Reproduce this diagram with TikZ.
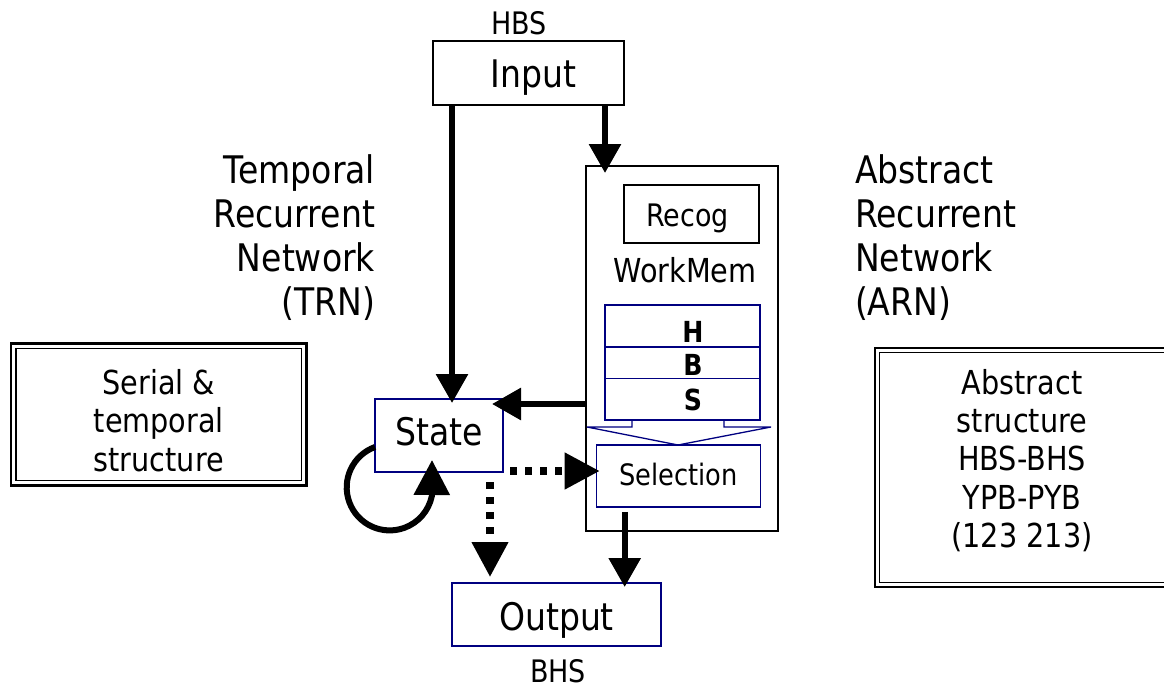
\documentclass[tikz,border=0pt]{standalone}
\usepackage{fontspec}
\setmainfont{DejaVu Sans}[FakeStretch=0.87]
\usetikzlibrary{arrows.meta,calc}
\definecolor{navyc}{RGB}{0,0,128}
\begin{document}
\begin{tikzpicture}[x=1pt,y=-1pt,
  every node/.style={inner sep=0pt, outer sep=0pt},
  bigfont/.style={font=\fontsize{38}{44}\selectfont},
  midfont/.style={font=\fontsize{33}{38.3}\selectfont},
  smallfont/.style={font=\fontsize{31}{35}\selectfont},
  blackbox/.style={draw=black, line width=2pt},
  navybox/.style={draw=navyc, line width=1.5pt},
  rowbox/.style={draw=navyc, line width=1.5pt, minimum width=155pt, font=\fontsize{29}{33}\selectfont\bfseries, text depth=0pt},
  solidarrow/.style={line width=6pt, -{Triangle[length=29pt,width=31pt]}},
  looparrow/.style={line width=6pt, -{Triangle[length=35pt,width=35pt]}},
  dotarrow/.style={line width=7.5pt, dash pattern=on 7pt off 8pt, -{Triangle[length=35pt,width=35pt]}}
]
\useasboundingbox (0,0) rectangle (1164,690);
\clip (0,0) rectangle (1164,690);

% top input
\node[blackbox, bigfont, minimum width=191pt, minimum height=64pt, text height=28.6pt, text depth=0pt] (input) at (528.5,73) {\hspace*{10pt}Input};
\node[smallfont, anchor=base] (hbsin) at (519,34.3) {HBS};

% side labels
\node[bigfont, align=right, anchor=east] (trn) at (375,238) {Temporal\\Recurrent\\Network\\(TRN)};
\node[bigfont, align=left, anchor=west] (arn) at (855,238) {Abstract\\Recurrent\\Network\\(ARN)};

% working memory block
\node[draw=black, line width=1.5pt, minimum width=192pt, minimum height=365pt] (wm) at (682,348.5) {};
\node[blackbox, smallfont, minimum width=135pt, minimum height=58pt, text height=25.4pt, text depth=0pt] (recog) at (691.5,214) {\hspace*{-8pt}Recog};
\node[font=\fontsize{33}{38}\selectfont, anchor=base] (wmlabel) at (685,282.7) {WorkMem};

\node[rowbox, minimum height=42pt, text height=32pt] (rowH) at (682.5,326) {\hspace*{21pt}H};
\node[rowbox, minimum height=31.5pt, text height=25pt] (rowB) at (682.5,362.5) {\hspace*{21pt}B};
\node[rowbox, minimum height=41.5pt, text height=22pt] (rowS) at (682.5,399) {\hspace*{21pt}S};

\draw[navyc, line width=1.3pt, line join=miter] (632,420) -- (632,427) -- (587,427) -- (678,445) -- (771,427) -- (724,427) -- (724,420);

\node[navybox, font=\fontsize{29.5}{34}\selectfont, minimum width=164pt, minimum height=62pt, text height=18.4pt, text depth=0pt] (selection) at (678.7,475.8) {Selection};

% state and output
\node[navybox, bigfont, minimum width=128pt, minimum height=73pt, text height=19pt, text depth=0pt] (state) at (439,435.5) {State};
\node[navybox, bigfont, minimum width=209pt, minimum height=63pt, text height=31pt, text depth=0pt] (output) at (556.5,614.5) {Output};
\node[smallfont, anchor=base] (bhsout) at (558,682.5) {BHS};

% double framed boxes
\node[draw=black, line width=2.6pt, minimum width=295.7pt, minimum height=142.4pt,
  label={[midfont, align=center, yshift=-6pt]center:Serial \&\\temporal\\structure}] (serial) at (158.85,414.5) {};
\draw[line width=1.3pt] ([shift={(5,5)}]serial.north west) rectangle ([shift={(-5,-5)}]serial.south east);

\node[draw=black, line width=2.6pt, minimum width=294pt, minimum height=239pt,
  label={[midfont, align=center, yshift=7pt]center:Abstract\\structure\\HBS-BHS\\YPB-PYB\\(123 213)}] (abs) at (1022,467.5) {};
\draw[line width=1.3pt] ([shift={(4.5,4.5)}]abs.north west) rectangle ([shift={(-4.5,-4.5)}]abs.south east);

% connectors
\coordinate (inL) at ([xshift=19pt]input.south west);
\draw[solidarrow, shorten >=-4pt] (inL) -- (inL |- state.north);
\coordinate (inR) at ([xshift=-19pt]input.south east);
\draw[solidarrow, shorten >=-7pt] (inR) -- (inR |- wm.north);
\coordinate (stR) at ([yshift=-5pt]state.north east);
\draw[solidarrow, shorten >=-11pt] (stR -| wm.west) -- (stR);
\draw[looparrow] ([yshift=-11.5pt]state.west) arc[start angle=250, end angle=12, radius=43] -- ([xshift=-7pt,yshift=12pt]state.south);
\coordinate (d1) at ([xshift=7pt,yshift=1pt]state.south east);
\draw[dotarrow, shorten >=-3pt] (d1) -- (d1 -| selection.west);
\coordinate (d2) at ([xshift=-13pt,yshift=-10pt]state.south east);
\draw[dotarrow, shorten >=6pt] (d2) -- (d2 |- output.north);
\coordinate (s1) at ([xshift=28pt,yshift=-5pt]selection.south west);
\draw[solidarrow, shorten >=-4pt] (s1) -- (s1 |- output.north);
\end{tikzpicture}
\end{document}
